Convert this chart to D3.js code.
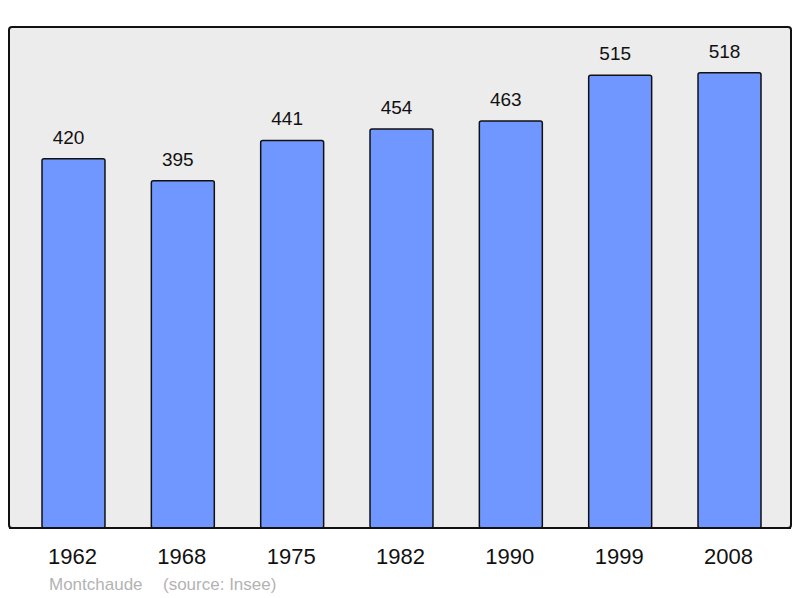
<!DOCTYPE html>
<html>
<head>
<meta charset="utf-8">
<script src="https://cdn.jsdelivr.net/npm/d3@7"></script>
<style>
  body { margin: 0; background: #fff; }
  text { font-family: "Liberation Sans", Arial, sans-serif; }
</style>
</head>
<body>
<div id="chart"></div>
<script>
// Data
const years = ["1962", "1968", "1975", "1982", "1990", "1999", "2008"];
const population = [420, 395, 441, 454, 463, 515, 518];
const town = "Montchaude";
const source = "(source: Insee)";

const dataset = years.map((y, i) => ({ year: y, value: population[i] }));

// Dimensions
const dimensions = {
  width: 800,
  height: 598,
  panel: { left: 9, top: 27, right: 791, bottom: 528 },
};

const svg = d3
  .select("#chart")
  .append("svg")
  .attr("width", dimensions.width)
  .attr("height", dimensions.height);

// Scales
const xScale = d3
  .scaleBand()
  .domain(years)
  .range([42, 761])
  .paddingInner(0.424)
  .paddingOuter(0);

const yScale = d3
  .scaleLinear()
  .domain([0, 570])
  .range([dimensions.panel.bottom, dimensions.panel.top]);

// Panel background
svg
  .append("rect")
  .attr("x", dimensions.panel.left)
  .attr("y", dimensions.panel.top)
  .attr("width", dimensions.panel.right - dimensions.panel.left)
  .attr("height", dimensions.panel.bottom - dimensions.panel.top)
  .attr("rx", 3)
  .attr("fill", "#ececec")
  .attr("stroke", "#111")
  .attr("stroke-width", 2);

// Bars
svg
  .append("g")
  .selectAll("rect")
  .data(dataset)
  .join("rect")
  .attr("x", (d) => xScale(d.year))
  .attr("y", (d) => yScale(d.value))
  .attr("width", xScale.bandwidth())
  .attr("height", (d) => yScale(0) - yScale(d.value))
  .attr("rx", 2)
  .attr("fill", "#7096ff")
  .attr("stroke", "#111")
  .attr("stroke-width", 1.5);

// Panel bottom edge redrawn over bars
svg
  .append("line")
  .attr("x1", dimensions.panel.left)
  .attr("x2", dimensions.panel.right)
  .attr("y1", dimensions.panel.bottom)
  .attr("y2", dimensions.panel.bottom)
  .attr("stroke", "#111")
  .attr("stroke-width", 2);

// Value labels (sit a little left of the bar centre)
svg
  .append("g")
  .selectAll("text")
  .data(dataset)
  .join("text")
  .attr("x", (d) => xScale(d.year) + xScale.bandwidth() / 2 - 5)
  .attr("y", (d) => yScale(d.value) - 15)
  .attr("text-anchor", "middle")
  .attr("font-size", 19)
  .attr("fill", "#111")
  .text((d) => d.value);

// Year labels
const xAxis = d3.axisBottom(xScale).tickSize(0).tickPadding(0);
const xAxisGroup = svg
  .append("g")
  .attr("transform", `translate(0, ${dimensions.panel.bottom})`)
  .call(xAxis);
xAxisGroup.select(".domain").remove();
xAxisGroup
  .selectAll("text")
  .attr("dy", null)
  .attr("x", -1)
  .attr("y", 36)
  .attr("font-size", 22)
  .attr("font-family", "Liberation Sans, Arial, sans-serif")
  .attr("fill", "#111");

// Footer
svg
  .append("text")
  .attr("x", 49)
  .attr("y", 590)
  .attr("font-size", 17)
  .attr("fill", "#b3b3b3")
  .text(town);
svg
  .append("text")
  .attr("x", 163)
  .attr("y", 590)
  .attr("font-size", 17)
  .attr("fill", "#b3b3b3")
  .text(source);
</script>
</body>
</html>
